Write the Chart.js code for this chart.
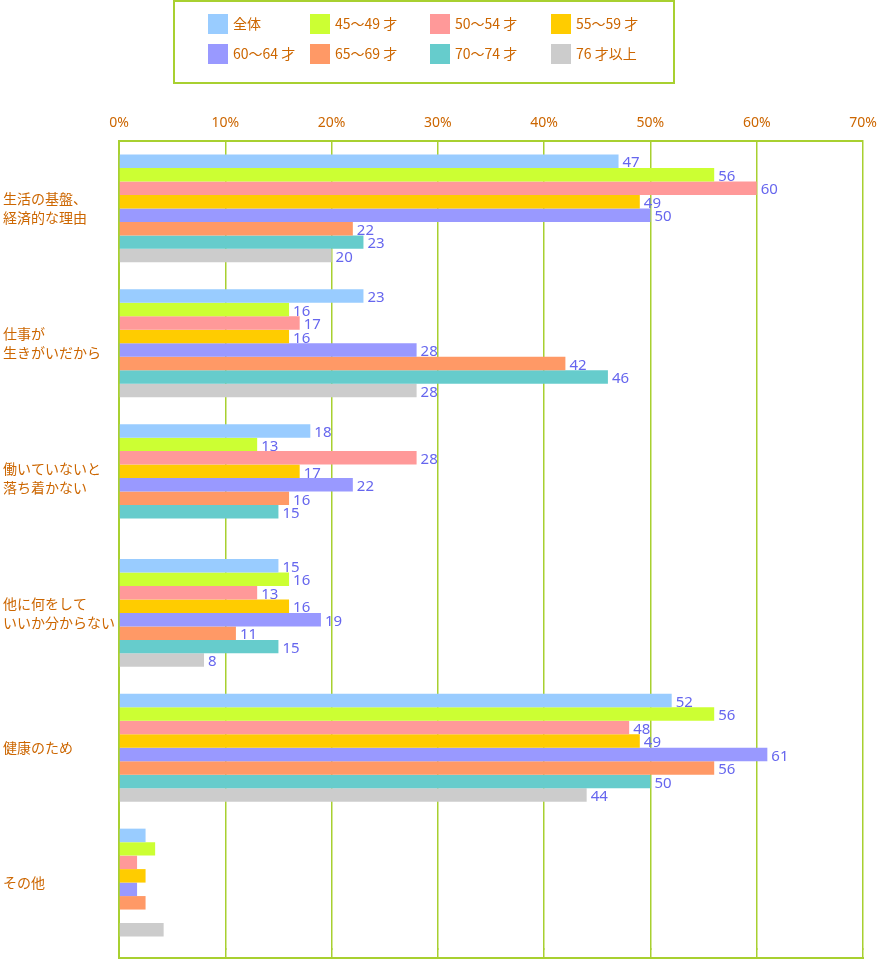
<!DOCTYPE html>
<html>
<head>
<meta charset="utf-8">
<script src="https://cdn.jsdelivr.net/npm/chart.js@4"></script>
<style>
  html, body { margin: 0; padding: 0; background: #fff; }
  #wrap { position: relative; width: 877px; height: 960px; }
  #chart { position: absolute; left: 0; top: 0; }
  #legend {
    position: absolute; left: 173px; top: 0; width: 498px; height: 80px;
    border: 2px solid #a8d030; box-sizing: content-box;
    font-family: "Noto Sans CJK JP", "Noto Sans", sans-serif; font-size: 14px; color: #cc6600;
  }
  .item { position: absolute; height: 20px; line-height: 20px; white-space: nowrap; }
  .sw { position: absolute; left: 0; top: 0; width: 20px; height: 20px; }
  .lbl { position: absolute; left: 25px; top: -1px; }
</style>
</head>
<body>
<div id="wrap">
  <canvas id="chart" width="877" height="960"></canvas>
  <div id="legend"></div>
</div>
<script>
const categories = [
  ["生活の基盤、", "経済的な理由"],
  ["仕事が", "生きがいだから"],
  ["働いていないと", "落ち着かない"],
  ["他に何をして", "いいか分からない"],
  "健康のため",
  "その他"
];
const seriesNames = ["全体", "45〜49 才", "50〜54 才", "55〜59 才", "60〜64 才", "65〜69 才", "70〜74 才", "76 才以上"];
const seriesColors = ["#99ccff", "#ccff33", "#ff9999", "#ffcc00", "#9999ff", "#ff9966", "#66cccc", "#cccccc"];
const valsAll   = [47, 23, 18, 15, 52, 2.5];
const vals4549  = [56, 16, 13, 16, 56, 3.4];
const vals5054  = [60, 17, 28, 13, 48, 1.7];
const vals5559  = [49, 16, 17, 16, 49, 2.5];
const vals6064  = [50, 28, 22, 19, 61, 1.7];
const vals6569  = [22, 42, 16, 11, 56, 2.5];
const vals7074  = [23, 46, 15, 15, 50, null];
const vals76    = [20, 28, null, 8, 44, 4.2];
const labelShown = [true, true, true, true, true, false];
const xTicks = [0, 10, 20, 30, 40, 50, 60, 70];

const seriesValues = [valsAll, vals4549, vals5054, vals5559, vals6064, vals6569, vals7074, vals76];

// HTML legend
const legendEl = document.getElementById('legend');
const colX = [33, 135, 255, 376];
const rowY = [12, 42];
seriesNames.forEach((n, i) => {
  const d = document.createElement('div');
  d.className = 'item';
  d.style.left = colX[i % 4] + 'px';
  d.style.top = rowY[Math.floor(i / 4)] + 'px';
  d.innerHTML = '<span class="sw" style="background:' + seriesColors[i] + '"></span><span class="lbl">' + n + '</span>';
  legendEl.appendChild(d);
});

const GREEN = '#a8d030';
const FRAME_EXT = 9; // frame continues a little below the last category band

function alignPx(p, w) {
  const h = w / 2;
  return Math.round(p - h) + h;
}

const labelPlugin = {
  id: 'valueLabels',
  afterDatasetsDraw(chart) {
    const ctx = chart.ctx;
    ctx.save();
    ctx.font = '15px "Noto Sans", "DejaVu Sans", sans-serif';
    ctx.fillStyle = '#6666ee';
    ctx.textAlign = 'left';
    ctx.textBaseline = 'middle';
    chart.data.datasets.forEach((ds, di) => {
      const meta = chart.getDatasetMeta(di);
      meta.data.forEach((el, i) => {
        const v = ds.data[i];
        if (v == null || !labelShown[i]) return;
        ctx.fillText(String(v), el.x + 4, el.y + 2);
      });
    });
    ctx.restore();
  }
};

const framePlugin = {
  id: 'frame',
  afterDraw(chart) {
    const a = chart.chartArea, ctx = chart.ctx;
    const xs = chart.scales.x;
    const yb = a.bottom + FRAME_EXT;
    ctx.save();
    ctx.strokeStyle = GREEN;
    ctx.lineWidth = 1.5;
    xs.ticks.forEach((t, i) => {
      if (i === 0) return;
      const px = alignPx(xs.getPixelForValue(t.value), 1.5);
      ctx.beginPath();
      ctx.moveTo(px, a.bottom - 2);
      ctx.lineTo(px, yb);
      ctx.stroke();
    });
    ctx.lineWidth = 2;
    const lx = alignPx(a.left, 2);
    ctx.beginPath();
    ctx.moveTo(lx, a.bottom - 2);
    ctx.lineTo(lx, yb);
    ctx.stroke();
    ctx.beginPath();
    ctx.moveTo(a.left - 1, yb - 1);
    ctx.lineTo(a.right + 1, yb - 1);
    ctx.stroke();
    ctx.restore();
  }
};

new Chart(document.getElementById('chart'), {
  type: 'bar',
  data: {
    labels: categories,
    datasets: seriesNames.map((n, i) => ({
      label: n,
      data: seriesValues[i],
      backgroundColor: seriesColors[i],
      borderWidth: 0,
      categoryPercentage: 0.80,
      barPercentage: 1.0
    }))
  },
  options: {
    indexAxis: 'y',
    responsive: false,
    animation: false,
    layout: { padding: { top: 100, right: 14, bottom: 1 + FRAME_EXT, left: 3 } },
    plugins: { legend: { display: false }, tooltip: { enabled: false } },
    scales: {
      x: {
        position: 'top',
        min: 0, max: 70,
        afterBuildTicks(axis) { axis.ticks = xTicks.map(v => ({ value: v })); },
        ticks: {
          callback: v => v + '%',
          color: '#cc6600',
          font: { size: 14, family: '"Noto Sans", sans-serif' },
          padding: 10,
          maxRotation: 0
        },
        grid: { color: GREEN, lineWidth: 1.5, drawTicks: false },
        border: { color: GREEN, width: 2 },
        afterFit(axis) { axis.height = 41; axis.paddingLeft = 0; axis.paddingRight = 0; }
      },
      y: {
        ticks: {
          color: '#cc6600',
          font: { size: 14, family: '"Noto Sans CJK JP", sans-serif', lineHeight: 1.35 },
          crossAlign: 'far',
          padding: 0
        },
        grid: { display: false },
        border: { color: GREEN, width: 2 },
        afterFit(axis) { axis.width = 116; axis.paddingTop = 0; axis.paddingBottom = 0; }
      }
    }
  },
  plugins: [labelPlugin, framePlugin]
});
</script>
</body>
</html>
